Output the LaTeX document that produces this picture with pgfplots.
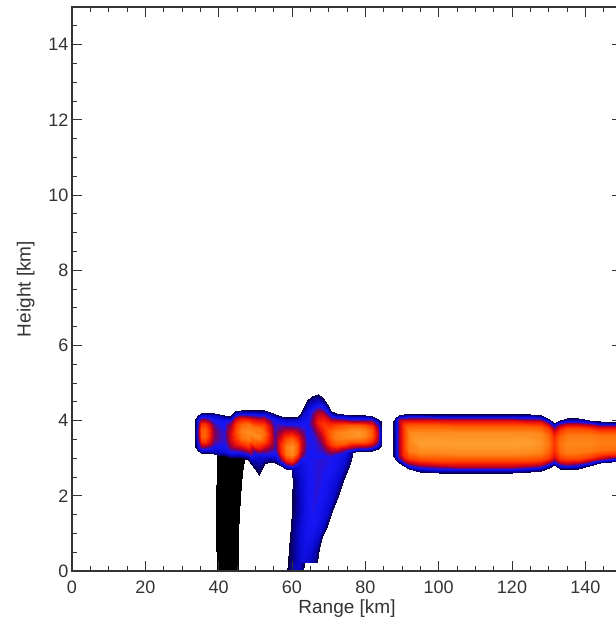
\documentclass[border=0pt]{standalone}
\usepackage{fontspec}
\setmainfont{Liberation Sans}
\usepackage{pgfplots}
\pgfplotsset{compat=1.18}
\begin{document}
\begin{tikzpicture}
\begin{axis}[
  at={(0pt,0pt)}, anchor=south west,
  scale only axis, width=550pt, height=564pt,
  xmin=0, xmax=150, ymin=0, ymax=15,
  xtick={0,20,...,140}, ytick={0,2,...,14},
  minor xtick={5,10,...,145}, minor ytick={0.5,1,...,14.5},
  tick align=inside,
  major tick length=10pt, minor tick length=5pt,
  axis line style={line width=1.2pt, black!80},
  tick style={black!80, line width=0.9pt},
  tick label style={font=\fontsize{18}{18}\selectfont, text=black!80},
  label style={font=\fontsize{19}{19}\selectfont, text=black!80},
  xticklabel shift=6pt,
  ylabel shift=7pt,
  xlabel={Range [km]}, ylabel={Height [km]},
  /pgf/number format/assume math mode=true,
  colormap={radar}{rgb255(0pt)=(0,0,0) rgb255(10pt)=(10,0,65) rgb255(20pt)=(8,0,150) rgb255(30pt)=(10,10,210) rgb255(40pt)=(22,22,245) rgb255(50pt)=(130,0,80) rgb255(60pt)=(215,5,20) rgb255(70pt)=(255,40,0) rgb255(80pt)=(255,90,0) rgb255(90pt)=(255,135,25) rgb255(100pt)=(255,170,60)},
  point meta min=0, point meta max=1,
  axis on top,
]
% black column
\addplot[surf, shader=interp, mesh/cols=3, mesh/rows=5, point meta=explicit] table[x=x, y=y, meta=v] {
x y v
39.6 0 0
42.45 0 0
45.3 0 0
39.3 1 0
42.3 1 0
45.3 1 0
39.4 2 0
42.6 2 0
45.8 2 0
39.5 2.6 0
42.9 2.6 0
46.3 2.6 0
39.6 3.1 0
43.4 3.1 0
47.2 3.1 0
};
% blue plume
\addplot[surf, shader=interp, mesh/cols=7, mesh/rows=11, point meta=explicit] table[x=x, y=y, meta=v] {
x y v
58.7 0 0.08
59.13 0 0.14
59.99 0 0.22
60.85 0 0.28
61.71 0 0.28
62.57 0 0.22
63.0 0 0.1
58.8 0.2 0.08
59.24 0.2 0.14
60.12 0.2 0.22
61.0 0.2 0.28
61.88 0.2 0.28
62.76 0.2 0.22
63.2 0.2 0.1
58.85 0.25 0.08
59.65 0.25 0.15
61.24 0.25 0.26
62.83 0.25 0.32
64.42 0.25 0.3
66.0 0.25 0.22
66.8 0.25 0.1
59.1 0.6 0.1
59.92 0.6 0.17
61.56 0.6 0.28
63.2 0.6 0.35
64.84 0.6 0.33
66.48 0.6 0.25
67.3 0.6 0.12
59.4 0.9 0.1
60.28 0.9 0.18
62.04 0.9 0.3
63.8 0.9 0.38
65.56 0.9 0.36
67.32 0.9 0.28
68.2 0.9 0.12
59.7 1.2 0.1
60.68 1.2 0.2
62.64 1.2 0.33
64.6 1.2 0.4
66.56 1.2 0.38
68.52 1.2 0.3
69.5 1.2 0.12
59.9 1.6 0.1
61.01 1.6 0.2
63.23 1.6 0.34
65.45 1.6 0.41
67.67 1.6 0.38
69.89 1.6 0.3
71.0 1.6 0.12
60.1 2.0 0.1
61.34 2.0 0.22
63.82 2.0 0.36
66.3 2.0 0.42
68.78 2.0 0.38
71.26 2.0 0.3
72.5 2.0 0.12
60.2 2.4 0.12
61.58 2.4 0.26
64.34 2.4 0.38
67.1 2.4 0.42
69.86 2.4 0.38
72.62 2.4 0.3
74.0 2.4 0.12
59.8 2.8 0.2
61.37 2.8 0.3
64.51 2.8 0.4
67.65 2.8 0.42
70.79 2.8 0.4
73.93 2.8 0.32
75.5 2.8 0.12
59.5 3.15 0.3
61.21 3.15 0.35
64.63 3.15 0.4
68.05 3.15 0.42
71.47 3.15 0.4
74.89 3.15 0.35
76.6 3.15 0.15
};
% first band (33-85 km) with tower
\addplot[surf, shader=interp, mesh/cols=10, mesh/rows=36, point meta=explicit] table[x=x, y=y, meta=v] {
x y v
33.6 3.30 0.1
33.6 3.34 0.1
33.6 3.40 0.1
33.6 3.50 0.1
33.6 3.62 0.1
33.6 3.73 0.1
33.6 3.84 0.1
33.6 3.94 0.1
33.6 4.00 0.1
33.6 4.05 0.1
34.3 3.20 0.1
34.3 3.25 0.28
34.3 3.32 0.38
34.3 3.46 0.45
34.3 3.60 0.5
34.3 3.74 0.5
34.3 3.88 0.45
34.3 4.01 0.38
34.3 4.09 0.28
34.3 4.15 0.1
35.2 3.15 0.1
35.2 3.20 0.3
35.2 3.29 0.5
35.2 3.43 0.7
35.2 3.59 0.8
35.2 3.75 0.8
35.2 3.91 0.7
35.2 4.04 0.5
35.2 4.14 0.3
35.2 4.20 0.1
36.2 3.15 0.1
36.2 3.20 0.3
36.2 3.29 0.5
36.2 3.43 0.72
36.2 3.59 0.82
36.2 3.75 0.82
36.2 3.91 0.72
36.2 4.04 0.5
36.2 4.14 0.3
36.2 4.20 0.1
37.5 3.15 0.1
37.5 3.20 0.3
37.5 3.29 0.45
37.5 3.43 0.62
37.5 3.59 0.7
37.5 3.75 0.7
37.5 3.91 0.62
37.5 4.04 0.45
37.5 4.14 0.3
37.5 4.20 0.1
38.8 3.12 0.1
38.8 3.17 0.25
38.8 3.26 0.35
38.8 3.41 0.45
38.8 3.57 0.5
38.8 3.74 0.5
38.8 3.90 0.45
38.8 4.04 0.38
38.8 4.14 0.28
38.8 4.20 0.1
40 3.05 0.05
40 3.11 0.2
40 3.20 0.33
40 3.36 0.4
40 3.52 0.45
40 3.69 0.45
40 3.86 0.42
40 4.01 0.38
40 4.11 0.28
40 4.18 0.1
41.5 3.05 0.05
41.5 3.11 0.22
41.5 3.19 0.35
41.5 3.35 0.4
41.5 3.51 0.42
41.5 3.68 0.42
41.5 3.84 0.4
41.5 3.99 0.38
41.5 4.08 0.28
41.5 4.15 0.1
43 3.00 0.05
43 3.06 0.22
43 3.15 0.38
43 3.30 0.5
43 3.47 0.58
43 3.64 0.6
43 3.81 0.55
43 3.95 0.45
43 4.05 0.3
43 4.12 0.1
44.5 3.00 0.05
44.5 3.06 0.22
44.5 3.16 0.4
44.5 3.34 0.62
44.5 3.53 0.72
44.5 3.71 0.75
44.5 3.90 0.7
44.5 4.06 0.55
44.5 4.18 0.3
44.5 4.25 0.1
46 3.00 0.05
46 3.06 0.22
46 3.17 0.42
46 3.35 0.68
46 3.54 0.85
46 3.73 0.88
46 3.92 0.82
46 4.09 0.6
46 4.20 0.32
46 4.28 0.1
48 2.95 0.08
48 3.02 0.22
48 3.12 0.42
48 3.31 0.7
48 3.51 0.88
48 3.71 0.92
48 3.91 0.85
48 4.08 0.62
48 4.20 0.32
48 4.28 0.1
50 2.70 0.1
50 2.78 0.15
50 2.91 0.22
50 3.13 0.38
50 3.36 0.75
50 3.60 0.92
50 3.84 0.85
50 4.04 0.6
50 4.19 0.32
50 4.28 0.1
51 2.55 0.1
51 2.64 0.12
51 2.77 0.18
51 3.02 0.3
51 3.28 0.65
51 3.54 0.9
51 3.80 0.86
51 4.02 0.62
51 4.18 0.32
51 4.28 0.1
52.5 2.85 0.1
52.5 2.92 0.2
52.5 3.04 0.32
52.5 3.24 0.55
52.5 3.45 0.78
52.5 3.67 0.85
52.5 3.88 0.75
52.5 4.07 0.55
52.5 4.19 0.3
52.5 4.28 0.1
54 2.90 0.1
54 2.97 0.22
54 3.07 0.35
54 3.26 0.5
54 3.45 0.62
54 3.65 0.65
54 3.85 0.6
54 4.02 0.48
54 4.14 0.3
54 4.22 0.1
55.5 2.88 0.1
55.5 2.94 0.22
55.5 3.05 0.35
55.5 3.23 0.42
55.5 3.42 0.45
55.5 3.62 0.45
55.5 3.81 0.42
55.5 3.98 0.4
55.5 4.09 0.3
55.5 4.17 0.1
57 2.78 0.1
57 2.85 0.3
57 2.95 0.5
57 3.14 0.7
57 3.34 0.72
57 3.54 0.62
57 3.74 0.5
57 3.92 0.42
57 4.04 0.3
57 4.12 0.1
58.5 2.72 0.12
58.5 2.79 0.35
58.5 2.90 0.62
58.5 3.09 0.85
58.5 3.30 0.88
58.5 3.51 0.78
58.5 3.71 0.6
58.5 3.89 0.42
58.5 4.02 0.3
58.5 4.10 0.1
60 2.72 0.25
60 2.79 0.45
60 2.90 0.68
60 3.09 0.9
60 3.30 0.92
60 3.51 0.82
60 3.71 0.62
60 3.89 0.42
60 4.02 0.3
60 4.10 0.1
61.5 2.80 0.33
61.5 2.87 0.45
61.5 2.97 0.62
61.5 3.15 0.8
61.5 3.35 0.82
61.5 3.54 0.7
61.5 3.74 0.52
61.5 3.91 0.4
61.5 4.02 0.3
61.5 4.10 0.1
62.5 2.90 0.35
62.5 2.97 0.4
62.5 3.07 0.5
62.5 3.25 0.6
62.5 3.45 0.6
62.5 3.64 0.52
62.5 3.84 0.42
62.5 4.01 0.35
62.5 4.12 0.25
62.5 4.20 0.1
64 2.95 0.38
64 3.03 0.38
64 3.16 0.4
64 3.38 0.42
64 3.62 0.4
64 3.86 0.38
64 4.10 0.36
64 4.31 0.3
64 4.45 0.22
64 4.55 0.1
65.5 3.00 0.4
65.5 3.08 0.4
65.5 3.21 0.4
65.5 3.45 0.4
65.5 3.69 0.42
65.5 3.94 0.5
65.5 4.19 0.45
65.5 4.40 0.32
65.5 4.55 0.22
65.5 4.65 0.1
67 3.00 0.4
67 3.09 0.4
67 3.22 0.42
67 3.46 0.45
67 3.71 0.55
67 3.97 0.68
67 4.22 0.55
67 4.45 0.35
67 4.60 0.22
67 4.70 0.1
68.5 3.00 0.4
68.5 3.08 0.4
68.5 3.21 0.45
68.5 3.43 0.55
68.5 3.67 0.65
68.5 3.91 0.72
68.5 4.15 0.6
68.5 4.36 0.38
68.5 4.50 0.22
68.5 4.60 0.1
69.5 3.00 0.4
69.5 3.07 0.42
69.5 3.19 0.5
69.5 3.39 0.65
69.5 3.61 0.75
69.5 3.83 0.75
69.5 4.04 0.62
69.5 4.23 0.4
69.5 4.36 0.25
69.5 4.45 0.1
70.5 3.00 0.4
70.5 3.06 0.42
70.5 3.16 0.52
70.5 3.34 0.72
70.5 3.53 0.82
70.5 3.71 0.82
70.5 3.90 0.7
70.5 4.06 0.48
70.5 4.18 0.28
70.5 4.25 0.1
72 3.05 0.4
72 3.11 0.42
72 3.20 0.55
72 3.36 0.78
72 3.53 0.88
72 3.71 0.88
72 3.88 0.75
72 4.03 0.5
72 4.13 0.3
72 4.20 0.1
74 3.10 0.35
74 3.15 0.4
74 3.24 0.55
74 3.39 0.8
74 3.55 0.9
74 3.71 0.9
74 3.88 0.78
74 4.02 0.52
74 4.12 0.3
74 4.18 0.1
76 3.15 0.15
76 3.20 0.32
76 3.28 0.52
76 3.42 0.8
76 3.57 0.92
76 3.72 0.92
76 3.87 0.8
76 4.00 0.52
76 4.09 0.3
76 4.15 0.1
78 3.18 0.1
78 3.23 0.3
78 3.31 0.52
78 3.44 0.8
78 3.59 0.94
78 3.73 0.94
78 3.88 0.8
78 4.00 0.52
78 4.09 0.3
78 4.15 0.1
80 3.18 0.1
80 3.23 0.3
80 3.31 0.52
80 3.44 0.78
80 3.59 0.9
80 3.73 0.9
80 3.88 0.78
80 4.00 0.52
80 4.09 0.3
80 4.15 0.1
81.8 3.20 0.1
81.8 3.25 0.3
81.8 3.32 0.52
81.8 3.45 0.72
81.8 3.59 0.8
81.8 3.72 0.8
81.8 3.86 0.72
81.8 3.98 0.52
81.8 4.06 0.3
81.8 4.12 0.1
83.4 3.25 0.1
83.4 3.29 0.25
83.4 3.35 0.38
83.4 3.47 0.5
83.4 3.59 0.55
83.4 3.71 0.55
83.4 3.83 0.5
83.4 3.93 0.38
83.4 4.00 0.25
83.4 4.05 0.1
84.5 3.35 0.1
84.5 3.38 0.1
84.5 3.43 0.1
84.5 3.51 0.1
84.5 3.60 0.1
84.5 3.69 0.1
84.5 3.78 0.1
84.5 3.86 0.1
84.5 3.91 0.1
84.5 3.95 0.1
};
% second band (88-150 km)
\addplot[surf, shader=interp, mesh/cols=11, mesh/rows=22, point meta=explicit] table[x=x, y=y, meta=v] {
x y v
87.6 3.05 0.1
87.6 3.10 0.1
87.6 3.15 0.1
87.6 3.24 0.1
87.6 3.36 0.1
87.6 3.53 0.1
87.6 3.69 0.1
87.6 3.81 0.1
87.6 3.90 0.1
87.6 3.95 0.1
87.6 4.00 0.1
88.3 2.95 0.1
88.3 3.01 0.3
88.3 3.08 0.33
88.3 3.18 0.33
88.3 3.33 0.33
88.3 3.53 0.33
88.3 3.72 0.33
88.3 3.87 0.33
88.3 3.97 0.33
88.3 4.04 0.3
88.3 4.10 0.1
89.2 2.88 0.1
89.2 2.94 0.33
89.2 3.02 0.52
89.2 3.13 0.55
89.2 3.30 0.55
89.2 3.52 0.55
89.2 3.73 0.55
89.2 3.90 0.55
89.2 4.01 0.55
89.2 4.09 0.36
89.2 4.15 0.1
90.5 2.78 0.1
90.5 2.85 0.33
90.5 2.93 0.55
90.5 3.06 0.72
90.5 3.24 0.75
90.5 3.48 0.75
90.5 3.71 0.75
90.5 3.89 0.75
90.5 4.02 0.6
90.5 4.10 0.36
90.5 4.17 0.1
92 2.70 0.1
92 2.77 0.33
92 2.86 0.55
92 3.00 0.75
92 3.19 0.88
92 3.44 0.9
92 3.69 0.9
92 3.88 0.8
92 4.02 0.6
92 4.11 0.36
92 4.18 0.1
95 2.64 0.1
95 2.72 0.33
95 2.81 0.55
95 2.95 0.75
95 3.15 0.9
95 3.41 0.97
95 3.67 0.92
95 3.87 0.8
95 4.01 0.6
95 4.11 0.36
95 4.18 0.1
100 2.61 0.1
100 2.69 0.33
100 2.78 0.55
100 2.92 0.75
100 3.13 0.9
100 3.40 0.97
100 3.66 0.92
100 3.87 0.8
100 4.01 0.6
100 4.10 0.36
100 4.18 0.1
105 2.60 0.1
105 2.68 0.33
105 2.77 0.55
105 2.92 0.75
105 3.12 0.9
105 3.39 0.97
105 3.66 0.92
105 3.86 0.8
105 4.01 0.6
105 4.10 0.36
105 4.18 0.1
110 2.60 0.1
110 2.68 0.33
110 2.77 0.55
110 2.92 0.75
110 3.12 0.9
110 3.39 0.97
110 3.66 0.92
110 3.86 0.8
110 4.01 0.6
110 4.10 0.36
110 4.18 0.1
115 2.60 0.1
115 2.68 0.33
115 2.77 0.55
115 2.92 0.75
115 3.12 0.9
115 3.39 0.97
115 3.66 0.92
115 3.86 0.8
115 4.01 0.6
115 4.10 0.36
115 4.18 0.1
120 2.60 0.1
120 2.68 0.33
120 2.77 0.55
120 2.92 0.75
120 3.12 0.9
120 3.39 0.97
120 3.66 0.92
120 3.86 0.8
120 4.01 0.6
120 4.10 0.36
120 4.18 0.1
125 2.62 0.1
125 2.70 0.33
125 2.79 0.55
125 2.93 0.75
125 3.13 0.9
125 3.40 0.97
125 3.66 0.92
125 3.86 0.8
125 4.00 0.6
125 4.09 0.36
125 4.17 0.1
128 2.66 0.1
128 2.73 0.33
128 2.82 0.55
128 2.96 0.75
128 3.15 0.88
128 3.41 0.93
128 3.66 0.9
128 3.85 0.78
128 3.99 0.6
128 4.08 0.36
128 4.15 0.1
130 2.75 0.1
130 2.82 0.33
130 2.89 0.55
130 3.01 0.72
130 3.18 0.82
130 3.40 0.85
130 3.62 0.82
130 3.79 0.72
130 3.91 0.55
130 3.99 0.33
130 4.05 0.1
131.5 2.82 0.1
131.5 2.88 0.33
131.5 2.94 0.5
131.5 3.04 0.62
131.5 3.19 0.7
131.5 3.38 0.72
131.5 3.56 0.7
131.5 3.71 0.62
131.5 3.81 0.5
131.5 3.87 0.33
131.5 3.93 0.1
133 2.72 0.1
133 2.79 0.33
133 2.86 0.55
133 2.98 0.72
133 3.15 0.82
133 3.37 0.86
133 3.59 0.82
133 3.76 0.72
133 3.88 0.55
133 3.96 0.33
133 4.02 0.1
135 2.70 0.1
135 2.77 0.33
135 2.85 0.55
135 2.97 0.75
135 3.15 0.87
135 3.39 0.9
135 3.62 0.87
135 3.80 0.76
135 3.92 0.58
135 4.00 0.35
135 4.07 0.1
138 2.72 0.1
138 2.79 0.33
138 2.87 0.55
138 2.99 0.75
138 3.17 0.87
138 3.40 0.9
138 3.62 0.87
138 3.80 0.76
138 3.92 0.58
138 4.00 0.35
138 4.07 0.1
141 2.78 0.1
141 2.84 0.33
141 2.92 0.55
141 3.03 0.75
141 3.19 0.87
141 3.40 0.9
141 3.61 0.87
141 3.77 0.76
141 3.88 0.58
141 3.96 0.35
141 4.02 0.1
144 2.86 0.1
144 2.92 0.33
144 2.98 0.55
144 3.08 0.72
144 3.23 0.85
144 3.42 0.88
144 3.61 0.85
144 3.76 0.72
144 3.86 0.55
144 3.92 0.33
144 3.98 0.1
147 2.90 0.1
147 2.95 0.33
147 3.02 0.55
147 3.11 0.72
147 3.25 0.85
147 3.44 0.88
147 3.62 0.85
147 3.76 0.72
147 3.85 0.55
147 3.92 0.33
147 3.97 0.1
150 2.93 0.1
150 2.98 0.33
150 3.04 0.55
150 3.14 0.72
150 3.27 0.85
150 3.45 0.88
150 3.62 0.85
150 3.75 0.72
150 3.85 0.55
150 3.91 0.33
150 3.96 0.1
};
\end{axis}
\pgfresetboundingbox
\path[use as bounding box] (-72pt,-52pt) rectangle (543pt,571pt);
\end{tikzpicture}
\end{document}
